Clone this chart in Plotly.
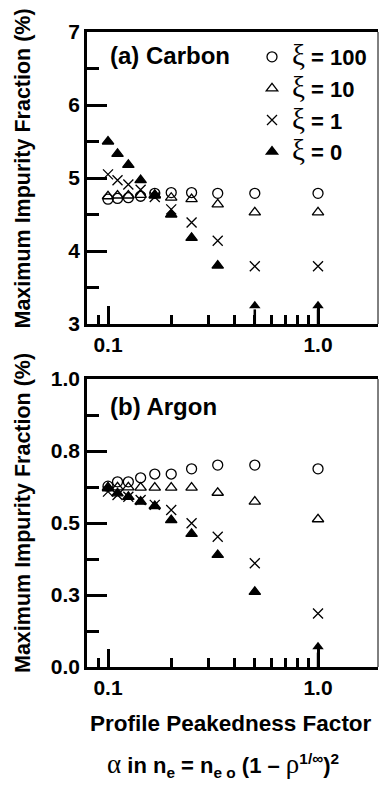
import plotly.graph_objects as go

# ---- data ----
alpha = [0.1, 0.111, 0.125, 0.143, 0.167, 0.2, 0.25, 0.333, 0.5, 1.0]

carbon_xi100 = [4.71, 4.72, 4.73, 4.75, 4.79, 4.80, 4.80, 4.79, 4.79, 4.79]
carbon_xi10 = [4.75, 4.76, 4.76, 4.77, 4.76, 4.73, 4.71, 4.64, 4.53, 4.53]
carbon_xi1 = [5.05, 4.97, 4.91, 4.84, 4.74, 4.57, 4.39, 4.14, 3.79, 3.79]
carbon_xi0 = [5.50, 5.33, 5.18, 4.97, 4.77, 4.50, 4.18, 3.80, None, None]
carbon_arrow_x = [0.5, 1.0]
carbon_arrow_tip = [3.25, 3.25]

argon_xi100 = [0.628, 0.643, 0.643, 0.657, 0.670, 0.670, 0.688, 0.701, 0.701, 0.688]
argon_xi10 = [0.624, 0.624, 0.624, 0.623, 0.623, 0.623, 0.623, 0.605, 0.574, 0.513]
argon_xi1 = [0.609, 0.597, 0.591, 0.580, 0.563, 0.545, 0.499, 0.452, 0.360, 0.186]
argon_xi0 = [0.620, 0.603, 0.591, 0.574, 0.559, 0.510, 0.462, 0.389, 0.261, None]
argon_arrow_x = [1.0]
argon_arrow_tip = [0.07]

series_names = ["100", "10", "1", "0"]
x_tickvals = [0.1, 1.0]
x_ticktext = ["0.1", "1.0"]
x_minor = [0.09, 0.2, 0.3, 0.4, 0.5, 0.6, 0.7, 0.8, 0.9]
carbon_ticks = [3, 4, 5, 6, 7]
carbon_minor = [3.5, 4.5, 5.5, 6.5]
argon_ticks = [0.0, 0.25, 0.5, 0.75, 1.0]
argon_ticktext = ["0.0", "0.3", "0.5", "0.8", "1.0"]
argon_minor = [0.125, 0.375, 0.625, 0.875]

W, H = 380, 787
FONT = "Liberation Sans"
SERIF = "Liberation Serif"

symbols = ["circle-open", "triangle-up-open", "x-thin-open", "triangle-up"]

fig = go.Figure()

def lbl(v):
    return ("<span style='font-family:" + SERIF + ";font-weight:normal;font-size:29px'>ξ</span>"
            " = " + v)

carbon = [carbon_xi100, carbon_xi10, carbon_xi1, carbon_xi0]
argon = [argon_xi100, argon_xi10, argon_xi1, argon_xi0]
for i in range(4):
    fig.add_trace(go.Scatter(
        x=alpha, y=carbon[i], mode="markers", name=lbl(series_names[i]),
        marker=dict(symbol=symbols[i], size=10, color="black",
                    line=dict(color="black", width=1.3)),
        xaxis="x", yaxis="y", showlegend=True))
for i in range(4):
    fig.add_trace(go.Scatter(
        x=alpha, y=argon[i], mode="markers",
        marker=dict(symbol=symbols[i], size=10, color="black",
                    line=dict(color="black", width=1.3)),
        xaxis="x2", yaxis="y2", showlegend=False))

# off-scale arrows
def arrows(xs, tips, base, stem_top, xa, ya):
    for xv, tv in zip(xs, tips):
        fig.add_trace(go.Scatter(x=[xv, xv], y=[base, stem_top], mode="lines",
                                 line=dict(color="black", width=2.5),
                                 xaxis=xa, yaxis=ya, showlegend=False, hoverinfo="skip"))
        fig.add_trace(go.Scatter(x=[xv], y=[tv], mode="markers",
                                 marker=dict(symbol="triangle-up", size=10, color="black"),
                                 xaxis=xa, yaxis=ya, showlegend=False, hoverinfo="skip"))

arrows(carbon_arrow_x, carbon_arrow_tip, 3.0, 3.2, "x", "y")
arrows(argon_arrow_x, argon_arrow_tip, 0.0, 0.05, "x2", "y2")

xdom = [87 / W, 378 / W]
ydom_a = [1 - 324 / H, 1 - 32 / H]
ydom_b = [1 - 667 / H, 1 - 379 / H]

tickfont = dict(family=FONT, size=21, color="black", weight="bold")

def xaxis_cfg(anchor):
    return dict(
        domain=xdom, anchor=anchor, type="log", range=[-1.1, 0.2856],
        tickvals=x_tickvals, ticktext=x_ticktext, ticks="inside", ticklen=18,
        tickwidth=2.5, tickcolor="black",
        minor=dict(tickvals=x_minor, ticks="inside", ticklen=9, tickwidth=2.5,
                   tickcolor="black", showgrid=False),
        showline=True, linewidth=2.5, linecolor="black", mirror=True,
        showgrid=False, zeroline=False, tickfont=tickfont, automargin=False)

def yaxis_cfg(anchor, dom, rng, tv, tt, mv):
    return dict(
        domain=dom, anchor=anchor, range=rng, tickvals=tv, ticktext=tt,
        ticks="inside", ticklen=20, tickwidth=2.5, tickcolor="black",
        minor=dict(tickvals=mv, ticks="inside", ticklen=12, tickwidth=2.5,
                   tickcolor="black", showgrid=False),
        showline=True, linewidth=2.5, linecolor="black", mirror=False,
        showgrid=False, zeroline=False, tickfont=tickfont, automargin=False)

fig.update_layout(
    width=W, height=H,
    margin=dict(l=0, r=0, t=0, b=0),
    paper_bgcolor="white", plot_bgcolor="white",
    xaxis=xaxis_cfg("y"),
    yaxis=yaxis_cfg("x", ydom_a, [3, 7], carbon_ticks, [str(v) for v in carbon_ticks], carbon_minor),
    xaxis2=xaxis_cfg("y2"),
    yaxis2=yaxis_cfg("x2", ydom_b, [0, 1], argon_ticks, argon_ticktext, argon_minor),
    legend=dict(x=252 / W, y=1 - 36 / H, xanchor="left", yanchor="top",
                bgcolor="rgba(0,0,0,0)", borderwidth=0,
                font=dict(family=FONT, size=22, color="black", weight="bold"),
                itemwidth=30, tracegroupgap=0),
    showlegend=True,
)

# thin right frame lines
for xr, yr in [("x domain", "y domain"), ("x2 domain", "y2 domain")]:
    fig.add_shape(type="line", xref=xr, yref=yr, x0=1, x1=1, y0=0, y1=1,
                  line=dict(color="black", width=1))

ann_font_b = dict(family=FONT, color="black", weight="bold")
fig.add_annotation(text="(a) Carbon", x=108 / W, y=1 - 55 / H, xref="paper", yref="paper",
                   xanchor="left", yanchor="middle", showarrow=False,
                   font=dict(size=24, **ann_font_b))
fig.add_annotation(text="(b) Argon", x=108 / W, y=1 - 406 / H, xref="paper", yref="paper",
                   xanchor="left", yanchor="middle", showarrow=False,
                   font=dict(size=24, **ann_font_b))
for yc in [168.5, 513]:
    fig.add_annotation(text="Maximum Impurity Fraction (%)", x=23 / W, y=1 - yc / H,
                       xref="paper", yref="paper", textangle=-90, showarrow=False,
                       xanchor="center", yanchor="middle", font=dict(size=21.5, **ann_font_b))
fig.add_annotation(text="Profile Peakedness Factor", x=231 / W, y=1 - 723 / H,
                   xref="paper", yref="paper", showarrow=False, xanchor="center",
                   yanchor="middle", font=dict(size=22.5, **ann_font_b))
gk = "<span style='font-family:" + SERIF + ";font-weight:normal;font-size:27px'>"
fig.add_annotation(
    text=gk + "α</span> in n<sub>e</sub> = n<sub>e o</sub> (1 – " + gk + "ρ</span>"
         "<sup>1/∞</sup>)<sup>2</sup>",
    x=223 / W, y=1 - 765 / H, xref="paper", yref="paper", showarrow=False,
    xanchor="center", yanchor="middle",
    font=dict(family=FONT, size=22, color="black", weight="bold"))

fig.write_html("out.html", config={"displayModeBar": False},
               post_script="document.body.style.margin='0';")
